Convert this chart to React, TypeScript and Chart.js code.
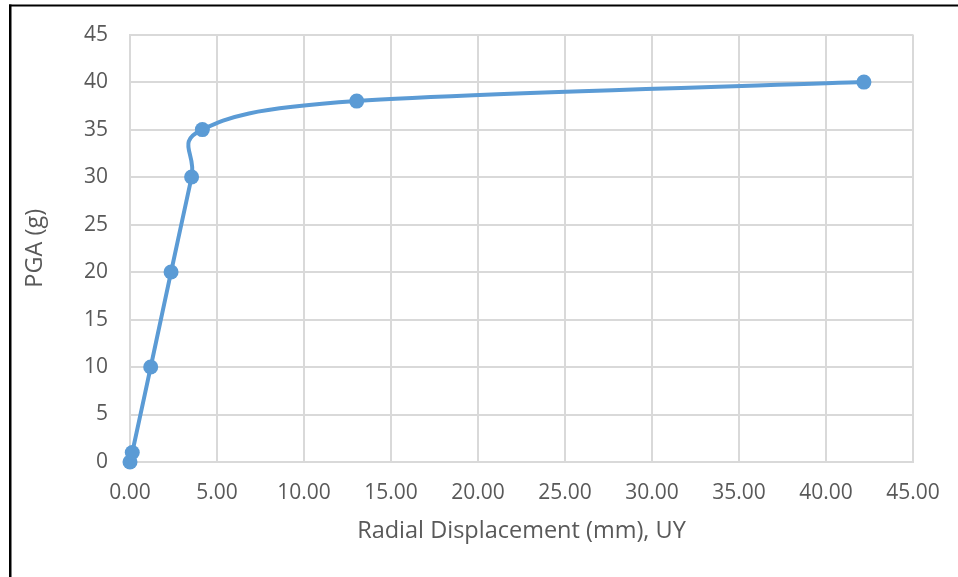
import React, { useEffect, useRef } from "react";
import { Chart, registerables } from "chart.js";

Chart.register(...registerables);

const displacementMm: number[] = [0, 0.13, 1.19, 2.36, 3.54, 4.16, 13.03, 42.18];
const pgaG: number[] = [0, 1, 10, 20, 30, 35, 38, 40];
const xTickStep = 5;
const yTickStep = 5;
const xTitle = "Radial Displacement (mm), UY";
const yTitle = "PGA (g)";

const FONT = "'Open Sans', 'Noto Sans', sans-serif";
const TEXT = "#595959";
const GRID = "#d9d9d9";
const LINE = "#5b9bd5";

const frame = {
  id: "frame",
  afterDraw(chart: any) {
    const ctx = chart.ctx;
    ctx.save();
    ctx.fillStyle = "#000";
    ctx.fillRect(9, 4.5, 2.5, 577);
    ctx.fillRect(9, 4.5, 958, 2);
    ctx.restore();
  },
};

// Excel-style smoothing: uniform Catmull-Rom control points (1/6 of neighbour span)
const excelSmooth = {
  id: "excelSmooth",
  beforeDatasetsDraw(chart: any) {
    chart.data.datasets.forEach((_ds: any, i: number) => {
      const meta = chart.getDatasetMeta(i);
      const line = meta.dataset;
      const pts = meta.data;
      if (!line || !pts || !pts.length) return;
      if (typeof line.updateControlPoints === "function") {
        line.updateControlPoints(chart.chartArea, "x");
      }
      const n = pts.length;
      for (let k = 0; k < n; k++) {
        const p = pts[k];
        const prev = pts[Math.max(0, k - 1)];
        const next = pts[Math.min(n - 1, k + 1)];
        const dx = (next.x - prev.x) / 6;
        const dy = (next.y - prev.y) / 6;
        p.cp1x = p.x - dx;
        p.cp1y = p.y - dy;
        p.cp2x = p.x + dx;
        p.cp2y = p.y + dy;
      }
      line._pointsUpdated = true;
      line._path = undefined;
    });
  },
};

export default function App() {
  const ref = useRef<HTMLCanvasElement | null>(null);
  useEffect(() => {
    if (!ref.current) return;
    const data = displacementMm.map((x, i) => ({ x, y: pgaG[i] }));
    const chart = new Chart(ref.current, {
      type: "scatter",
      data: {
        datasets: [
          {
            data,
            showLine: true,
            clip: false,
            borderColor: LINE,
            backgroundColor: LINE,
            borderWidth: 4,
            borderCapStyle: "round",
            borderJoinStyle: "round",
            tension: 0.4,
            pointRadius: 7.5,
            pointBorderWidth: 0,
            pointBackgroundColor: LINE,
          },
        ],
      },
      options: {
        animation: false,
        responsive: false,
        devicePixelRatio: 1,
        layout: { padding: { left: 20, right: 45, top: 34, bottom: 32 } },
        plugins: { legend: { display: false }, tooltip: { enabled: false } },
        scales: {
          x: {
            type: "linear",
            min: 0,
            max: 45,
            ticks: {
              stepSize: xTickStep,
              color: TEXT,
              font: { family: FONT, size: 21 },
              padding: 18,
              callback: (v: any) => Number(v).toFixed(2),
            },
            grid: { color: GRID, lineWidth: 2, drawTicks: false },
            border: { color: GRID, width: 2 },
            title: {
              display: true,
              text: xTitle,
              color: TEXT,
              font: { family: FONT, size: 23.5 },
              padding: { top: 0, bottom: 0 },
            },
            afterFit: (s: any) => {
              s.height = 83;
            },
          },
          y: {
            type: "linear",
            min: 0,
            max: 45,
            ticks: {
              stepSize: yTickStep,
              color: TEXT,
              font: { family: FONT, size: 21 },
              padding: 22,
            },
            grid: { color: GRID, lineWidth: 2, drawTicks: false },
            border: { color: GRID, width: 2 },
            title: {
              display: true,
              text: yTitle,
              color: TEXT,
              font: { family: FONT, size: 23.5 },
              padding: { top: 1, bottom: 0 },
            },
            afterFit: (s: any) => {
              s.width = 110;
            },
          },
        },
      },
      plugins: [excelSmooth, frame],
    });
    return () => chart.destroy();
  }, []);
  return (
    <div style={{ position: "absolute", left: 0, top: 0, width: 958, height: 577, background: "#fff" }}>
      <canvas ref={ref} width={958} height={577} />
    </div>
  );
}
